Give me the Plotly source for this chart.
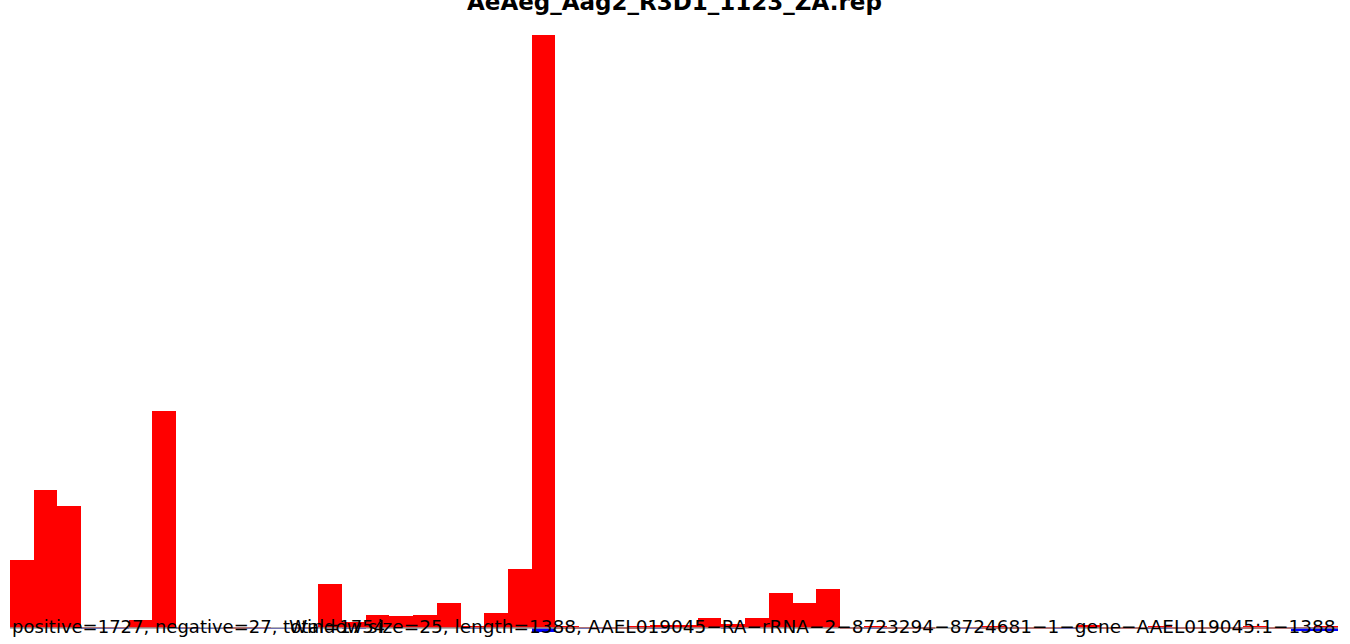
import plotly.graph_objects as go

title_text = "AeAeg_Aag2_R3D1_1123_ZA.rep"
stats_text = "positive=1727, negative=27, total=1754"
# the reference renders the hyphens as minus signs
info_text = "Window size=25, length=1388, AAEL019045\u2212RA\u2212rRNA\u22122\u22128723294\u22128724681\u22121\u2212gene\u2212AAEL019045:1\u22121388"

window_size = 25
n_windows = 56
window_start = [i * window_size for i in range(n_windows)]

positive = [78, 159, 141, 1, 1, 9, 250, 1, 0, 1, 1, 0, 1, 51, 7, 15, 14, 15, 29, 2,
            17, 68, 683, 2, 1, 1, 2, 3, 4, 12, 5, 12, 40, 29, 45,
            1, 2, 1, 1, 0, 1, 2, 1, 1, 1, 3, 1, 1, 2, 1, 1, 1, 2, 1, 1, 2]
negative = [0, 0, 0, -1, -1, 0, 0, -1, -1, 0, -1, -1, -1, 0, -1, 0, 0, 0, 0, -1,
            0, 0, -5, 0, -1, 0, 0, -1, 0, 0, -1, 0, 0, 0, 0,
            0, -1, 0, 0, 0, -1, 0, 0, 0, -1, 0, 0, 0, -1, 0, 0, 0, 0, 0, -3, -3]

x_mid = [s + window_size / 2 for s in window_start]

fig = go.Figure()
fig.add_trace(go.Bar(x=x_mid, y=positive, width=window_size, marker=dict(color="#ff0000", line=dict(width=0)),
                     name="positive", showlegend=False, hoverinfo="skip"))
fig.add_trace(go.Bar(x=x_mid, y=negative, width=window_size, marker=dict(color="#0000ff", line=dict(width=0)),
                     name="negative", showlegend=False, hoverinfo="skip"))

fig.add_shape(type="line", xref="x", yref="y", x0=0, x1=n_windows * window_size, y0=0, y1=0,
              line=dict(color="#999999", width=1.5), layer="above")

fig.add_annotation(text="<b>" + title_text + "</b>", xref="paper", yref="paper", x=0.5, y=1 + 33 / 605,
                   xanchor="center", yanchor="middle", showarrow=False,
                   font=dict(family="DejaVu Sans", size=23, color="black"))
fig.add_annotation(text=stats_text, xref="paper", yref="y", x=0, y=0, xanchor="left", yanchor="middle",
                   yshift=2, showarrow=False, font=dict(family="DejaVu Sans", size=18, color="black"))
fig.add_annotation(text=info_text, xref="paper", yref="y", x=1, y=0, xanchor="right", yanchor="middle",
                   yshift=2, showarrow=False, font=dict(family="DejaVu Sans", size=18.5, color="black"))

fig.update_layout(
    width=1350, height=644,
    margin=dict(l=10, r=12, t=35, b=4),
    paper_bgcolor="white", plot_bgcolor="white",
    barmode="relative", bargap=0,
    xaxis=dict(range=[0, n_windows * window_size], visible=False, fixedrange=True),
    yaxis=dict(range=[-13.8, 683], visible=False, fixedrange=True),
)

fig.write_html("out.html", config={"displayModeBar": False},
               post_script="document.body.style.margin='0px';")
